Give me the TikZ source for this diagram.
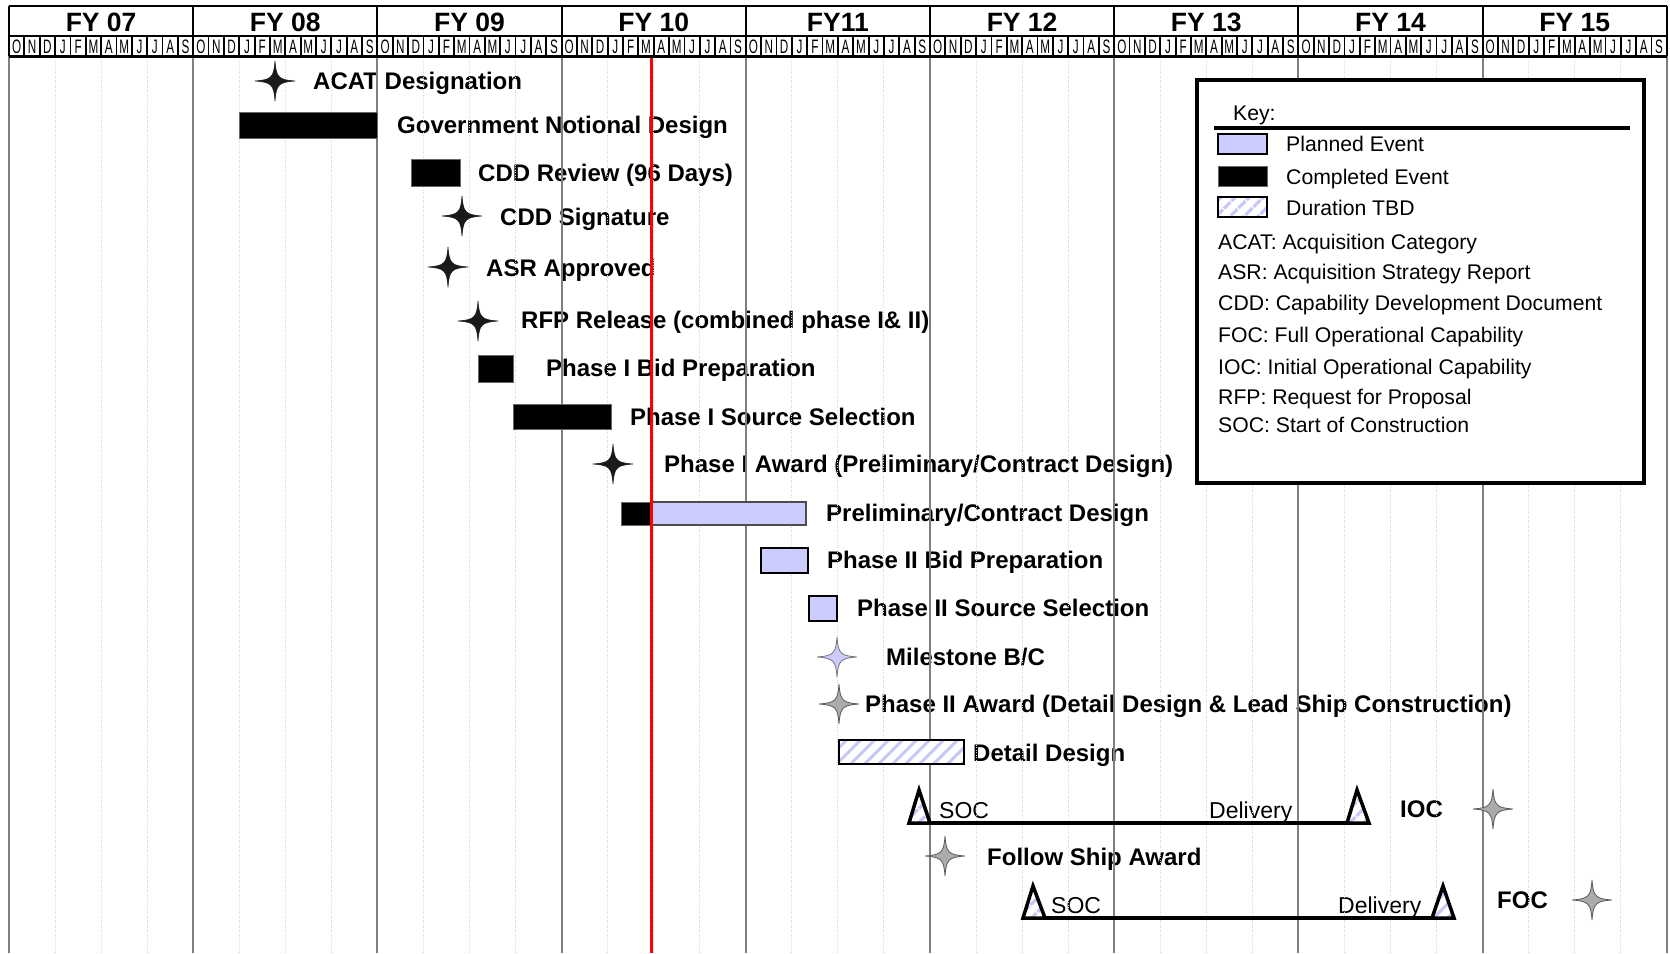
\documentclass[tikz,border=0pt]{standalone}
\usepackage{fontspec}
\setmainfont{Liberation Sans}
\usepackage{graphicx}
\usetikzlibrary{patterns.meta}
\definecolor{planned}{HTML}{CCCCFF}
\definecolor{stripe}{HTML}{C8C8F6}
\definecolor{yearline}{HTML}{7F7F7F}
\definecolor{qline}{HTML}{D4D4D4}
\definecolor{stargray}{HTML}{ABABAB}
\definecolor{starblack}{HTML}{1A1A1A}
\tikzset{
  star4/.pic={\path[pic actions] (0,-20) .. controls (1.2,-3.5) and (3.5,-1.2) .. (20,0) .. controls (3.5,1.2) and (1.2,3.5) .. (0,20) .. controls (-1.2,3.5) and (-3.5,1.2) .. (-20,0) .. controls (-3.5,-1.2) and (-1.2,-3.5) .. (0,-20) -- cycle;},
  blackstar/.style={fill=starblack, draw=starblack, line width=0.6pt},
  graystar/.style={fill=stargray, draw=black!65, line width=0.8pt},
  bluestar/.style={fill=planned, draw=black!55, line width=0.8pt},
  lab/.style={font=\fontsize{24}{28}\selectfont\bfseries, anchor=base west, inner sep=0pt},
  plainlab/.style={font=\fontsize{23}{28}\selectfont, anchor=base west, inner sep=0pt},
  keylab/.style={font=\fontsize{21.2}{25}\selectfont, anchor=base west, inner sep=0pt},
  fylab/.style={font=\fontsize{26.5}{30}\selectfont\bfseries, anchor=base, inner sep=0pt},
  molab/.style={font=\fontsize{19.5}{20}\selectfont, anchor=base, inner sep=0pt},
  donebar/.style={fill=black, draw=black!60, line width=0.8pt},
  planbar/.style={fill=planned, draw=black, line width=1.8pt},
  tbdbar/.style={pattern={Lines[angle=45,distance=10.5pt,line width=3.5pt]}, pattern color=stripe, draw=black, line width=1.8pt},
  tri/.style={pattern={Lines[angle=45,distance=10.5pt,line width=3.5pt]}, pattern color=stripe, draw=black, line width=3.5pt, line join=miter},
  spanline/.style={line width=3.8pt, draw=black},
  qgrid/.style={draw=qline, line width=1pt, dash pattern=on 1pt off 1.5pt},
  ygrid/.style={draw=yearline, line width=2pt},
  hdr/.style={draw=black, line width=2pt},
}
\begin{document}
\begin{tikzpicture}[x=1pt,y=-1pt]
\useasboundingbox (0,0) rectangle (1670,953);
\fill[white] (0,0) rectangle (1670,953);

% ---------- labels (under grid lines) ----------
\node[lab] (lACAT) at (313,89.3) {ACAT Designation};
\node[lab] (lGov) at (397,133.3) {Government Notional Design};
\node[lab] (lCDDr) at (478,181.7) {CDD Review (96 Days)};
\node[lab] (lCDDs) at (500,225) {CDD Signature};
\node[lab] (lASR) at (486,276) {ASR Approved};
\node[lab] (lRFP) at (521,328.3) {RFP Release (combined phase I\& II)};
\node[lab] (lBid1) at (546,376.7) {Phase I Bid Preparation};
\node[lab] (lSS1) at (630,425) {Phase I Source Selection};
\node[lab] (lAw1) at (664,472.7) {Phase I Award (Preliminary/Contract Design)};
\node[lab] (lPCD) at (826,521.7) {Preliminary/Contract Design};
\node[lab] (lBid2) at (827,568.3) {Phase II Bid Preparation};
\node[lab] (lSS2) at (857,616.7) {Phase II Source Selection};
\node[lab] (lMBC) at (886,665) {Milestone B/C};
\node[lab] (lAw2) at (865,712.3) {Phase II Award (Detail Design \& Lead Ship Construction)};
\node[lab] (lDD) at (973,761.7) {Detail Design};
\node[plainlab] (lSOC1) at (939,818) {SOC};
\node[plainlab] (lDel1) at (1209,818) {Delivery};
\node[lab] (lIOC) at (1400,817.3) {IOC};
\node[lab] (lFol) at (987,865) {Follow Ship Award};
\node[plainlab] (lSOC2) at (1051,913) {SOC};
\node[plainlab] (lDel2) at (1338,913) {Delivery};
\node[lab] (lFOC) at (1497,908.3) {FOC};

% ---------- grid ----------
\foreach \q in {1,...,35} \draw[qgrid] ({9+46.05*\q},57) -- ({9+46.05*\q},953);
\foreach \i in {1,...,8} \draw[ygrid] ({9+184.2*\i},57) -- ({9+184.2*\i},953);
\draw[ygrid] (9,6) -- (9,953);
\draw[ygrid] (1667,6) -- (1667,953);

% ---------- bars ----------
\draw[donebar] (239,112) rectangle (377,138);
\draw[donebar] (411,159) rectangle (460,186);
\draw[donebar] (478,355) rectangle (513,382);
\draw[donebar] (513,404) rectangle (611,429);
\draw[donebar] (621,502) rectangle (651,525);
\draw[planbar, draw=black!70] (651,502) rectangle (806,525);
\draw[planbar] (761,548) rectangle (808,573);
\draw[planbar] (809,596) rectangle (837,621);
\fill[white] (839,740) rectangle (964,764);
\draw[tbdbar] (839,740) rectangle (964,764);

% ---------- stars ----------
\pic[blackstar] at (275,81) {star4};
\pic[blackstar] at (462,216) {star4};
\pic[blackstar] at (448,267) {star4};
\pic[blackstar] at (478,321) {star4};
\pic[blackstar] at (613,464) {star4};
\pic[bluestar] at (837,657) {star4};
\pic[graystar] at (839,704) {star4};
\pic[graystar] at (1493,809) {star4};
\pic[graystar] at (945,856) {star4};
\pic[graystar] at (1592,900) {star4};

% ---------- construction spans ----------
\coordinate (soc1) at (909,823);
\coordinate (del1) at (1369,823);
\coordinate (soc2) at (1023,918);
\coordinate (del2) at (1454,918);
\draw[spanline] (soc1) -- (del1);
\draw[spanline] (soc2) -- (del2);
\fill[white] (909,823) -- (919,790) -- (930,823) -- cycle;
\draw[tri] (909,823) -- (919,790) -- (930,823) -- cycle;
\fill[white] (1347,823) -- (1357,790) -- (1369,823) -- cycle;
\draw[tri] (1347,823) -- (1357,790) -- (1369,823) -- cycle;
\fill[white] (1023,918) -- (1033,886) -- (1045,918) -- cycle;
\draw[tri] (1023,918) -- (1033,886) -- (1045,918) -- cycle;
\fill[white] (1432,918) -- (1443,886) -- (1454,918) -- cycle;
\draw[tri] (1432,918) -- (1443,886) -- (1454,918) -- cycle;

% ---------- today line ----------
\draw[red, line width=3pt] (651.5,57) -- (651.5,953);

% ---------- header ----------
\foreach \i/\fy in {0/FY 07,1/FY 08,2/FY 09,3/FY 10,4/FY11,5/FY 12,6/FY 13,7/FY 14,8/FY 15}{
  \node[fylab] (fy\i) at ({9+184.2*\i+92.1},31.5) {\fy};
  \foreach \mo [count=\k from 0] in {O,N,D,J,F,M,A,M,J,J,A,S}{
    \node[molab] (mo\i-\k) at ({9+184.2*\i+15.35*\k+7.675},53) {\scalebox{0.6}[1]{\mo}};
  }
}
\draw[hdr] (9,6) -- (1667,6);
\draw[hdr] (9,35.5) -- (1667,35.5);
\draw[black, line width=3pt] (9,56) -- (1667,56);
\foreach \k in {1,...,107} \draw[black, line width=1.8pt] ({9+15.35*\k},35.5) -- ({9+15.35*\k},56);
\foreach \i in {0,...,9} \draw[hdr] ({9+184.2*\i},6) -- ({9+184.2*\i},56);

% ---------- legend ----------
\draw[fill=white, line width=4pt] (1197,80) rectangle (1644,483);
\node[keylab] (kKey) at (1233,120) {Key:};
\draw[line width=3.5pt] (1214,128) -- (1630,128);
\draw[planbar, line width=1.5pt] (1218,134) rectangle (1267,154);
\draw[donebar] (1218,166) rectangle (1267,186);
\draw[tbdbar, line width=1.5pt] (1218,197) rectangle (1267,217);
\node[keylab] (kPl) at (1286,151.7) {Planned Event};
\node[keylab] (kCo) at (1286,184.3) {Completed Event};
\node[keylab] (kTb) at (1286,215) {Duration TBD};
\node[keylab] (kACAT) at (1218,249.3) {ACAT: Acquisition Category};
\node[keylab] (kASR) at (1218,279.3) {ASR: Acquisition Strategy Report};
\node[keylab] (kCDD) at (1218,310.7) {CDD: Capability Development Document};
\node[keylab] (kFOC) at (1218,342.7) {FOC: Full Operational Capability};
\node[keylab] (kIOC) at (1218,374) {IOC: Initial Operational Capability};
\node[keylab] (kRFP) at (1218,404) {RFP: Request for Proposal};
\node[keylab] (kSOC) at (1218,432.7) {SOC: Start of Construction};
\end{tikzpicture}
\end{document}
